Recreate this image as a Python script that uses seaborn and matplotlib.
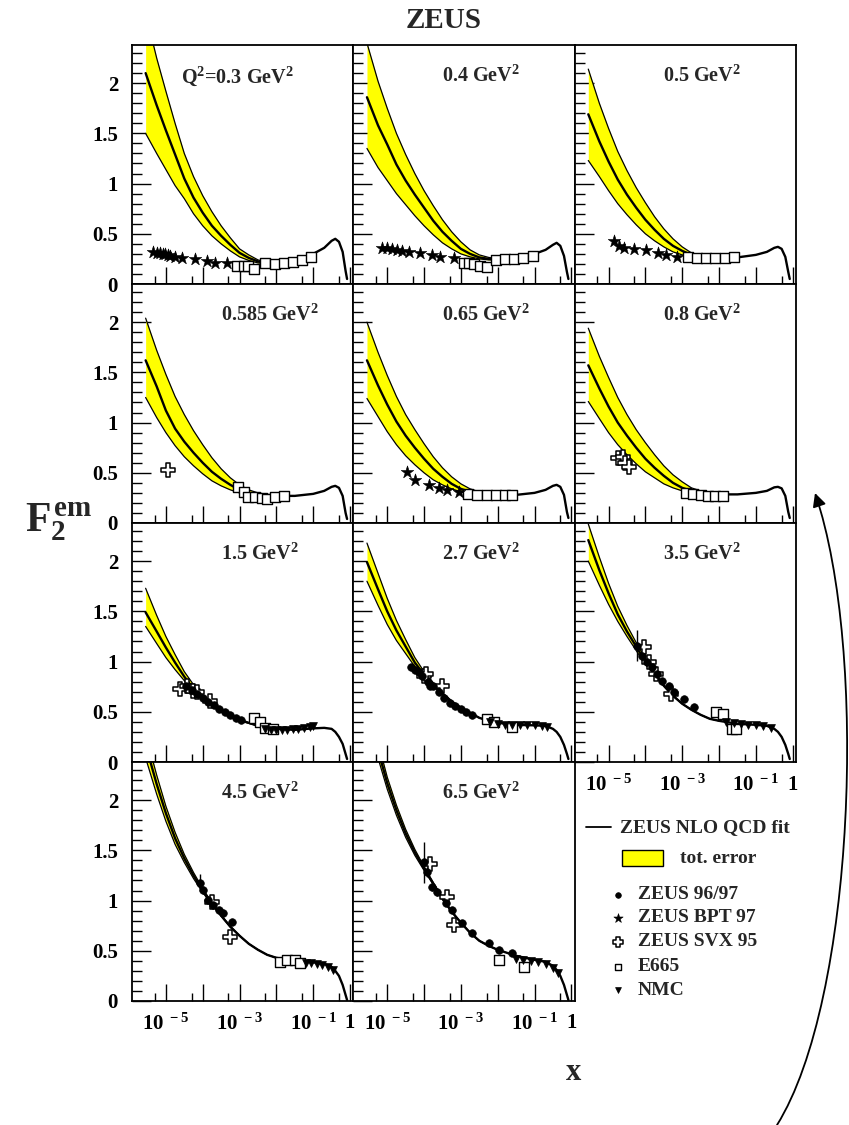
import numpy as np
import matplotlib
matplotlib.use("Agg")
import matplotlib.pyplot as plt
import seaborn as sns
from matplotlib.ticker import FixedLocator, FixedFormatter, NullFormatter
from matplotlib.patches import Rectangle, FancyArrowPatch
from matplotlib.lines import Line2D
from matplotlib.path import Path

# ---------------- data (x given as log10 x) ----------------
Q2_LABELS = [r"Q$^{2}$=0.3 GeV$^{2}$", r"0.4 GeV$^{2}$", r"0.5 GeV$^{2}$",
             r"0.585 GeV$^{2}$", r"0.65 GeV$^{2}$", r"0.8 GeV$^{2}$",
             r"1.5 GeV$^{2}$", r"2.7 GeV$^{2}$", r"3.5 GeV$^{2}$",
             r"4.5 GeV$^{2}$", r"6.5 GeV$^{2}$"]

LOGX_FIT = [-5.55, -5.25, -5.0, -4.75, -4.5, -4.25, -4.0, -3.75, -3.5, -3.25, -3.0, -2.75,
            -2.5, -2.25, -2.0, -1.5, -1.0, -0.7, -0.5, -0.4, -0.3, -0.2, -0.12, -0.08]
LOGX_BAND = LOGX_FIT[:15]

FIT_A = [2.10, 1.78, 1.53, 1.29, 1.05, 0.86, 0.71, 0.58, 0.48, 0.39, 0.31, 0.26, 0.225, 0.205, 0.20, 0.23, 0.30, 0.36, 0.43, 0.45, 0.42, 0.32, 0.13, 0.05]
UP_A = [2.70, 2.25, 1.92, 1.60, 1.30, 1.07, 0.88, 0.72, 0.58, 0.46, 0.35, 0.29, 0.24, 0.215, 0.205]
LO_A = [1.50, 1.30, 1.14, 0.98, 0.85, 0.70, 0.58, 0.48, 0.40, 0.33, 0.27, 0.235, 0.21, 0.20, 0.195]

FIT_B = [1.86, 1.58, 1.39, 1.19, 1.03, 0.89, 0.76, 0.63, 0.52, 0.43, 0.35, 0.30, 0.265, 0.25, 0.245, 0.26, 0.30, 0.34, 0.39, 0.41, 0.38, 0.28, 0.12, 0.05]
UP_B = [2.40, 2.02, 1.75, 1.50, 1.29, 1.10, 0.93, 0.78, 0.64, 0.52, 0.42, 0.34, 0.29, 0.265, 0.25]
LO_B = [1.35, 1.16, 1.03, 0.90, 0.79, 0.68, 0.58, 0.49, 0.41, 0.35, 0.30, 0.27, 0.25, 0.24, 0.24]

FIT_C = [1.69, 1.42, 1.22, 1.04, 0.89, 0.76, 0.64, 0.54, 0.45, 0.38, 0.33, 0.29, 0.27, 0.26, 0.26, 0.265, 0.29, 0.32, 0.36, 0.37, 0.35, 0.27, 0.12, 0.05]
UP_C = [2.14, 1.80, 1.55, 1.32, 1.13, 0.96, 0.81, 0.67, 0.55, 0.45, 0.37, 0.31, 0.28, 0.265, 0.26]
LO_C = [1.23, 1.07, 0.93, 0.80, 0.69, 0.59, 0.50, 0.43, 0.37, 0.32, 0.29, 0.27, 0.26, 0.255, 0.255]

FIT_D = [1.62, 1.36, 1.12, 0.94, 0.81, 0.70, 0.60, 0.51, 0.44, 0.38, 0.33, 0.30, 0.28, 0.27, 0.27, 0.27, 0.29, 0.32, 0.36, 0.37, 0.35, 0.27, 0.10, 0.04]
UP_D = [2.04, 1.72, 1.48, 1.26, 1.08, 0.92, 0.78, 0.65, 0.54, 0.45, 0.38, 0.33, 0.30, 0.285, 0.28]
LO_D = [1.25, 1.05, 0.90, 0.77, 0.66, 0.57, 0.49, 0.42, 0.37, 0.33, 0.30, 0.28, 0.27, 0.265, 0.265]

FIT_E = [1.62, 1.37, 1.18, 1.01, 0.87, 0.75, 0.64, 0.54, 0.46, 0.39, 0.34, 0.31, 0.29, 0.28, 0.28, 0.28, 0.30, 0.33, 0.37, 0.38, 0.36, 0.28, 0.11, 0.05]
UP_E = [2.00, 1.70, 1.47, 1.26, 1.08, 0.93, 0.79, 0.66, 0.55, 0.46, 0.39, 0.34, 0.31, 0.29, 0.285]
LO_E = [1.24, 1.06, 0.91, 0.78, 0.67, 0.58, 0.50, 0.43, 0.38, 0.34, 0.31, 0.29, 0.28, 0.275, 0.275]

FIT_F = [1.57, 1.34, 1.16, 1.00, 0.87, 0.75, 0.64, 0.55, 0.47, 0.40, 0.35, 0.32, 0.30, 0.29, 0.285, 0.285, 0.30, 0.32, 0.355, 0.36, 0.345, 0.27, 0.11, 0.05]
UP_F = [1.94, 1.66, 1.45, 1.25, 1.08, 0.93, 0.80, 0.68, 0.57, 0.48, 0.41, 0.35, 0.32, 0.30, 0.29]
LO_F = [1.21, 1.04, 0.90, 0.78, 0.68, 0.59, 0.51, 0.45, 0.39, 0.35, 0.32, 0.30, 0.29, 0.285, 0.28]

FIT_G = [1.49, 1.30, 1.14, 0.99, 0.85, 0.73, 0.64, 0.57, 0.51, 0.46, 0.42, 0.39, 0.36, 0.34, 0.33, 0.32, 0.335, 0.34, 0.33, 0.30, 0.25, 0.18, 0.08, 0.03]
UP_G = [1.73, 1.46, 1.25, 1.07, 0.90, 0.77, 0.67, 0.59, 0.52, 0.47, 0.43, 0.39, 0.36, 0.34, 0.33]
LO_G = [1.35, 1.18, 1.04, 0.92, 0.81, 0.70, 0.62, 0.56, 0.50, 0.45, 0.41, 0.385, 0.36, 0.34, 0.33]

FIT_H = [1.99, 1.72, 1.50, 1.31, 1.15, 0.99, 0.87, 0.77, 0.68, 0.60, 0.54, 0.49, 0.44, 0.41, 0.39, 0.37, 0.365, 0.36, 0.33, 0.30, 0.25, 0.17, 0.08, 0.03]
UP_H = [2.18, 1.88, 1.63, 1.41, 1.22, 1.04, 0.90, 0.79, 0.69, 0.61, 0.545, 0.49, 0.44, 0.41, 0.39]
LO_H = [1.80, 1.56, 1.37, 1.21, 1.08, 0.95, 0.84, 0.75, 0.67, 0.59, 0.535, 0.485, 0.44, 0.41, 0.39]

FIT_I = [2.21, 1.91, 1.68, 1.47, 1.30, 1.15, 1.00, 0.88, 0.76, 0.66, 0.58, 0.52, 0.47, 0.43, 0.41, 0.38, 0.37, 0.36, 0.33, 0.30, 0.25, 0.17, 0.08, 0.03]
UP_I = [2.37, 2.04, 1.78, 1.55, 1.36, 1.19, 1.03, 0.89, 0.77, 0.665, 0.58, 0.52, 0.47, 0.43, 0.41]
LO_I = [2.00, 1.76, 1.57, 1.40, 1.25, 1.11, 0.97, 0.87, 0.755, 0.655, 0.58, 0.52, 0.47, 0.43, 0.41]

FIT_J = [2.55, 2.16, 1.87, 1.62, 1.42, 1.25, 1.10, 0.97, 0.85, 0.74, 0.65, 0.57, 0.51, 0.46, 0.43, 0.40, 0.385, 0.37, 0.34, 0.30, 0.25, 0.16, 0.06, 0.01]
UP_J = [2.66, 2.25, 1.94, 1.68, 1.46, 1.28, 1.12, 0.98, 0.855, 0.745, 0.65, 0.57, 0.51, 0.46, 0.43]
LO_J = [2.42, 2.06, 1.79, 1.56, 1.38, 1.22, 1.08, 0.96, 0.845, 0.735, 0.65, 0.57, 0.51, 0.46, 0.43]

FIT_K = [2.95, 2.50, 2.17, 1.90, 1.67, 1.48, 1.32, 1.17, 1.02, 0.89, 0.78, 0.68, 0.60, 0.55, 0.51, 0.45, 0.41, 0.39, 0.35, 0.31, 0.25, 0.16, 0.06, 0.01]
UP_K = [3.05, 2.58, 2.23, 1.95, 1.71, 1.51, 1.34, 1.18, 1.03, 0.895, 0.78, 0.68, 0.60, 0.55, 0.51]
LO_K = [2.85, 2.42, 2.11, 1.85, 1.63, 1.45, 1.30, 1.16, 1.01, 0.885, 0.78, 0.68, 0.60, 0.55, 0.51]

# measurements: (log10 x, F2)
BPT_A_X = [-5.35, -5.25, -5.16, -5.08, -5.03, -4.95, -4.89, -4.75, -4.57, -4.21, -3.89, -3.66, -3.35]
BPT_A_Y = [0.32, 0.31, 0.31, 0.30, 0.30, 0.29, 0.28, 0.27, 0.26, 0.25, 0.23, 0.21, 0.21]
E665_A_X = [-3.07, -2.89, -2.76, -2.60, -2.30, -2.05, -1.80, -1.55, -1.30, -1.05]
E665_A_Y = [0.18, 0.18, 0.18, 0.15, 0.21, 0.20, 0.21, 0.22, 0.24, 0.27]

BPT_B_X = [-5.14, -5.01, -4.87, -4.74, -4.60, -4.42, -4.10, -3.78, -3.56, -3.19]
BPT_B_Y = [0.36, 0.36, 0.35, 0.34, 0.33, 0.32, 0.31, 0.29, 0.27, 0.26]
E665_B_X = [-2.92, -2.78, -2.65, -2.47, -2.28, -2.05, -1.80, -1.55, -1.30, -1.05]
E665_B_Y = [0.21, 0.21, 0.20, 0.18, 0.17, 0.24, 0.245, 0.25, 0.26, 0.28]

BPT_C_X = [-4.86, -4.72, -4.58, -4.31, -3.99, -3.67, -3.45, -3.13]
BPT_C_Y = [0.43, 0.38, 0.36, 0.35, 0.34, 0.31, 0.29, 0.27]
E665_C_X = [-2.85, -2.60, -2.35, -2.10, -1.85, -1.60]
E665_C_Y = [0.27, 0.26, 0.255, 0.26, 0.26, 0.265]

SVX_D_X = [-4.94]
SVX_D_Y = [0.53]
E665_D_X = [-3.03, -2.89, -2.76, -2.57, -2.39, -2.26, -2.05, -1.80]
E665_D_Y = [0.36, 0.31, 0.26, 0.26, 0.25, 0.24, 0.26, 0.27]

BPT_E_X = [-4.46, -4.24, -3.87, -3.60, -3.37, -3.05]
BPT_E_Y = [0.51, 0.43, 0.38, 0.35, 0.33, 0.31]
E665_E_X = [-2.80, -2.55, -2.30, -2.05, -1.80, -1.60]
E665_E_Y = [0.29, 0.28, 0.28, 0.28, 0.28, 0.28]

SVX_F_X = [-4.75, -4.62, -4.55, -4.45]
SVX_F_Y = [0.65, 0.66, 0.60, 0.56]
E665_F_X = [-2.90, -2.70, -2.50, -2.30, -2.10, -1.90]
E665_F_Y = [0.30, 0.29, 0.28, 0.27, 0.27, 0.27]

SVX_G_X = [-4.62, -4.44, -4.26, -4.16, -3.80]
SVX_G_Y = [0.73, 0.76, 0.71, 0.70, 0.61]
Z97_G_X = [-4.45, -4.30, -4.15, -4.00, -3.85, -3.70, -3.55, -3.40, -3.25, -3.10, -2.95]
Z97_G_Y = [0.76, 0.72, 0.68, 0.64, 0.60, 0.57, 0.53, 0.50, 0.47, 0.44, 0.42]
E665_G_X = [-2.62, -2.44, -2.30, -2.10]
E665_G_Y = [0.44, 0.40, 0.34, 0.33]
NMC_G_X = [-2.30, -2.15, -2.00, -1.85, -1.70, -1.55, -1.40, -1.25, -1.10, -1.00]
NMC_G_Y = [0.33, 0.32, 0.32, 0.32, 0.32, 0.33, 0.33, 0.34, 0.35, 0.36]

Z97_H_X = [-4.35, -4.25, -4.15, -4.05, -3.90, -3.83, -3.75, -3.60, -3.45, -3.30, -3.15, -3.00, -2.85, -2.70]
Z97_H_Y = [0.95, 0.92, 0.90, 0.86, 0.80, 0.76, 0.76, 0.70, 0.64, 0.59, 0.56, 0.53, 0.50, 0.47]
SVX_H_X = [-4.01, -3.94, -3.51]
SVX_H_Y = [0.86, 0.88, 0.76]
E665_H_X = [-2.28, -2.10, -1.60]
E665_H_Y = [0.43, 0.40, 0.35]
NMC_H_X = [-2.20, -2.00, -1.80, -1.60, -1.40, -1.20, -1.00, -0.80, -0.65]
NMC_H_Y = [0.40, 0.38, 0.37, 0.37, 0.37, 0.37, 0.37, 0.36, 0.35]

Z97_I_X = [-4.22, -4.09, -3.95, -3.82, -3.68, -3.55, -3.36, -3.23, -2.96, -2.68]
Z97_I_Y = [1.16, 1.06, 1.00, 0.95, 0.88, 0.81, 0.76, 0.70, 0.63, 0.55]
Z97_I_ERR = [0.15, 0.04, 0.03, 0.03, 0.03, 0.03, 0.03, 0.03, 0.02, 0.02]
SVX_I_X = [-4.04, -3.90, -3.72, -3.31]
SVX_I_Y = [1.15, 1.00, 0.88, 0.68]
E665_I_X = [-2.08, -1.90, -1.65, -1.53]
E665_I_Y = [0.50, 0.48, 0.33, 0.33]
NMC_I_X = [-1.80, -1.60, -1.40, -1.20, -1.00, -0.80, -0.60]
NMC_I_Y = [0.40, 0.39, 0.38, 0.37, 0.37, 0.36, 0.34]

Z97_J_X = [-4.07, -3.98, -3.85, -3.71, -3.57, -3.44, -3.21]
Z97_J_Y = [1.18, 1.11, 1.01, 0.96, 0.91, 0.88, 0.79]
Z97_J_ERR = [0.08, 0.04, 0.03, 0.03, 0.03, 0.03, 0.03]
SVX_J_X = [-3.74, -3.26]
SVX_J_Y = [0.99, 0.64]
E665_J_X = [-1.89, -1.71, -1.49, -1.35]
E665_J_Y = [0.39, 0.41, 0.41, 0.38]
NMC_J_X = [-1.20, -1.05, -0.90, -0.75, -0.60, -0.45]
NMC_J_Y = [0.38, 0.38, 0.37, 0.36, 0.34, 0.31]

Z97_K_X = [-4.01, -3.92, -3.78, -3.64, -3.41, -3.23, -2.96, -2.69, -2.23, -1.96, -1.60]
Z97_K_Y = [1.38, 1.28, 1.14, 1.09, 0.98, 0.91, 0.78, 0.68, 0.58, 0.51, 0.48]
Z97_K_ERR = [0.20, 0.05, 0.04, 0.04, 0.03, 0.03, 0.03, 0.03, 0.02, 0.02, 0.02]
SVX_K_X = [-3.83, -3.37, -3.18]
SVX_K_Y = [1.36, 1.04, 0.76]
E665_K_X = [-1.97, -1.28]
E665_K_Y = [0.41, 0.34]
NMC_K_X = [-1.50, -1.30, -1.10, -0.90, -0.70, -0.50, -0.35]
NMC_K_Y = [0.42, 0.41, 0.40, 0.39, 0.37, 0.33, 0.28]

X_MAJOR = [1e-5, 1e-4, 1e-3, 1e-2, 1e-1, 1.0]
X_MAJOR_LABELS = [r"$10^{\,\,-5}$", "", r"$10^{\,\,-3}$", "", r"$10^{\,\,-1}$", "1"]
X_MINOR = [5e-6, 5e-5, 5e-4, 5e-3, 5e-2, 5e-1]
Y_MAJOR = [0, 0.5, 1, 1.5, 2]
Y_MAJOR_LABELS = ["0", "0.5", "1", "1.5", "2"]
Y_MINOR = [v / 10 for v in range(0, 24)]

# ---------------- style ----------------
sns.set_theme(style="white")
plt.rcParams["font.family"] = ["Liberation Serif", "DejaVu Serif"]
plt.rcParams["font.weight"] = "bold"
plt.rcParams["mathtext.fontset"] = "custom"
plt.rcParams["mathtext.rm"] = "Liberation Serif:bold"
plt.rcParams["mathtext.it"] = "Liberation Serif:bold"
plt.rcParams["mathtext.bf"] = "Liberation Serif:bold"
plt.rcParams["axes.edgecolor"] = "black"
plt.rcParams["axes.linewidth"] = 1.3

W, H = 849, 1125
fig = plt.figure(figsize=(W / 100, H / 100), dpi=100)
fig.patch.set_facecolor("white")
gs = fig.add_gridspec(4, 3, left=132 / W, right=796 / W, top=1 - 45 / H,
                      bottom=1 - 1001 / H, wspace=0, hspace=0)

fits = [FIT_A, FIT_B, FIT_C, FIT_D, FIT_E, FIT_F, FIT_G, FIT_H, FIT_I, FIT_J, FIT_K]
ups = [UP_A, UP_B, UP_C, UP_D, UP_E, UP_F, UP_G, UP_H, UP_I, UP_J, UP_K]
los = [LO_A, LO_B, LO_C, LO_D, LO_E, LO_F, LO_G, LO_H, LO_I, LO_J, LO_K]

data = {
    0: {"bpt": (BPT_A_X, BPT_A_Y), "e665": (E665_A_X, E665_A_Y)},
    1: {"bpt": (BPT_B_X, BPT_B_Y), "e665": (E665_B_X, E665_B_Y)},
    2: {"bpt": (BPT_C_X, BPT_C_Y), "e665": (E665_C_X, E665_C_Y)},
    3: {"svx": (SVX_D_X, SVX_D_Y), "e665": (E665_D_X, E665_D_Y)},
    4: {"bpt": (BPT_E_X, BPT_E_Y), "e665": (E665_E_X, E665_E_Y)},
    5: {"svx": (SVX_F_X, SVX_F_Y), "e665": (E665_F_X, E665_F_Y)},
    6: {"z97": (Z97_G_X, Z97_G_Y), "svx": (SVX_G_X, SVX_G_Y), "e665": (E665_G_X, E665_G_Y), "nmc": (NMC_G_X, NMC_G_Y)},
    7: {"z97": (Z97_H_X, Z97_H_Y), "svx": (SVX_H_X, SVX_H_Y), "e665": (E665_H_X, E665_H_Y), "nmc": (NMC_H_X, NMC_H_Y)},
    8: {"z97": (Z97_I_X, Z97_I_Y, Z97_I_ERR), "svx": (SVX_I_X, SVX_I_Y), "e665": (E665_I_X, E665_I_Y), "nmc": (NMC_I_X, NMC_I_Y)},
    9: {"z97": (Z97_J_X, Z97_J_Y, Z97_J_ERR), "svx": (SVX_J_X, SVX_J_Y), "e665": (E665_J_X, E665_J_Y), "nmc": (NMC_J_X, NMC_J_Y)},
    10: {"z97": (Z97_K_X, Z97_K_Y, Z97_K_ERR), "svx": (SVX_K_X, SVX_K_Y), "e665": (E665_K_X, E665_K_Y), "nmc": (NMC_K_X, NMC_K_Y)},
}

STYLES = {
    "z97": dict(marker="o", s=30, color="black", edgecolor="black", linewidth=0.5),
    "bpt": dict(marker="*", s=90, color="black", edgecolor="black", linewidth=0.4),
    "svx": dict(marker="P", s=110, color="white", edgecolor="black", linewidth=1.1),
    "e665": dict(marker="s", s=42, color="white", edgecolor="black", linewidth=1.0),
    "nmc": dict(marker="v", s=32, color="black", edgecolor="black", linewidth=0.5),
}
ORDER = ["e665", "nmc", "svx", "z97", "bpt"]

XMIN, XMAX = 10 ** -5.92, 10 ** 0.09
YMAX = 2.38
TICK_FS = 15

x_fit = 10 ** np.array(LOGX_FIT)
x_band = 10 ** np.array(LOGX_BAND)

for i in range(11):
    r, c = divmod(i, 3)
    ax = fig.add_subplot(gs[r, c])
    ax.set_facecolor("white")
    ax.set_xscale("log")

    ax.fill_between(x_band, los[i], ups[i], color="#ffff00", lw=0, zorder=1)
    sns.lineplot(x=x_band, y=ups[i], ax=ax, color="black", lw=0.9, sort=False,
                 estimator=None, legend=False, zorder=2)
    sns.lineplot(x=x_band, y=los[i], ax=ax, color="black", lw=0.9, sort=False,
                 estimator=None, legend=False, zorder=2)
    sns.lineplot(x=x_fit, y=fits[i], ax=ax, color="black", lw=1.7, sort=False,
                 estimator=None, legend=False, zorder=3)

    for key in ORDER:
        if key not in data[i]:
            continue
        vals = data[i][key]
        xs = 10 ** np.array(vals[0])
        ys = np.array(vals[1])
        if len(vals) == 3:
            ax.errorbar(xs, ys, yerr=vals[2], fmt="none", ecolor="black",
                        elinewidth=1.0, capsize=0, zorder=4)
        sns.scatterplot(x=xs, y=ys, ax=ax, legend=False, zorder=5, **STYLES[key])

    ax.set_xlim(XMIN, XMAX)
    ax.set_ylim(0, YMAX)
    ax.set_xlabel("")
    ax.set_ylabel("")
    ax.grid(False)

    ax.xaxis.set_major_locator(FixedLocator(X_MAJOR))
    ax.xaxis.set_minor_locator(FixedLocator(X_MINOR))
    ax.xaxis.set_minor_formatter(NullFormatter())
    ax.yaxis.set_major_locator(FixedLocator(Y_MAJOR))
    ax.yaxis.set_minor_locator(FixedLocator(Y_MINOR))
    ax.yaxis.set_minor_formatter(NullFormatter())

    show_x = (r == 3) or (i == 8)
    show_y = (c == 0)
    if show_x:
        ax.xaxis.set_major_formatter(FixedFormatter(X_MAJOR_LABELS))
    else:
        ax.xaxis.set_major_formatter(NullFormatter())
    if show_y:
        ax.yaxis.set_major_formatter(FixedFormatter(Y_MAJOR_LABELS))
    else:
        ax.yaxis.set_major_formatter(NullFormatter())

    ax.tick_params(axis="both", which="both", direction="in", colors="black",
                   top=False, right=False, bottom=True, left=True, width=1.0)
    ax.tick_params(axis="x", which="major", length=12, pad=9, labelsize=TICK_FS)
    ax.tick_params(axis="x", which="minor", length=6)
    ax.tick_params(axis="y", which="major", length=14, pad=10, labelsize=TICK_FS)
    ax.tick_params(axis="y", which="minor", length=7)
    for sp in ax.spines.values():
        sp.set_color("black")
        sp.set_linewidth(1.3)
        sp.set_visible(True)

    lx = 0.22 if i == 0 else 0.40
    ax.text(lx, 0.868, Q2_LABELS[i], transform=ax.transAxes, ha="left", va="center",
            fontsize=14.5, fontweight="bold")

# ---------------- legend ----------------
axl = fig.add_subplot(gs[3, 2])
axl.axis("off")
axl.set_xlim(0, 1)
axl.set_ylim(0, 1)
LEG_FS = 14
axl.add_line(Line2D([0.05, 0.162], [0.727, 0.727], color="black", lw=1.3, clip_on=False))
axl.text(0.207, 0.727, "ZEUS NLO QCD fit", fontsize=LEG_FS, va="center", ha="left",
         fontweight="bold", clip_on=False)
axl.add_patch(Rectangle((0.212, 0.563), 0.188, 0.067, facecolor="#ffff00",
                        edgecolor="black", lw=1.0, clip_on=False))
axl.text(0.477, 0.597, "tot. error", fontsize=LEG_FS, va="center", ha="left",
         fontweight="bold", clip_on=False)
leg_items = [("z97", "ZEUS 96/97", 0.445), ("bpt", "ZEUS BPT 97", 0.349),
             ("svx", "ZEUS SVX 95", 0.248), ("e665", "E665", 0.143), ("nmc", "NMC", 0.046)]
for key, lab, yy in leg_items:
    st = dict(STYLES[key])
    st["s"] = st["s"] * 0.55
    axl.scatter([0.198], [yy], marker=st["marker"], s=st["s"], c=st["color"],
                edgecolors=st["edgecolor"], linewidths=st["linewidth"], clip_on=False)
    axl.text(0.284, yy, lab, fontsize=LEG_FS, va="center", ha="left",
             fontweight="bold", clip_on=False)

# ---------------- figure texts ----------------
fig.text(444 / W, 1 - 20 / H, "ZEUS", ha="center", va="center", fontsize=21,
         fontweight="bold")
fig.text(58 / W, 1 - 522 / H, r"$F_2^{em}$", ha="center", va="center", fontsize=30)
fig.text(574 / W, 1 - 1072 / H, "x", ha="center", va="center", fontsize=22,
         fontweight="bold")


def P(x, y):
    return (x / W, 1 - y / H)


arrow_path = Path([P(777, 1125), P(855, 1000), P(868, 650), P(815, 493)],
                  [Path.MOVETO, Path.CURVE4, Path.CURVE4, Path.CURVE4])
arrow = FancyArrowPatch(path=arrow_path, arrowstyle="-|>", mutation_scale=20,
                        lw=1.3, color="black", transform=fig.transFigure)
fig.add_artist(arrow)

fig.savefig("out.png", dpi=100, facecolor="white")
